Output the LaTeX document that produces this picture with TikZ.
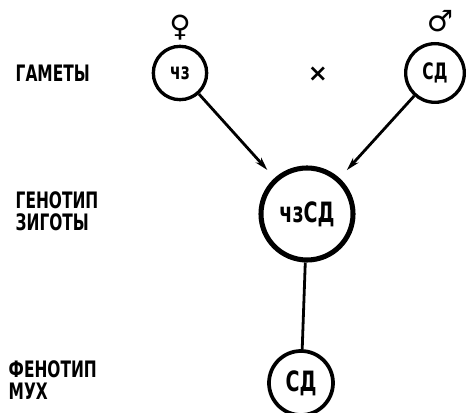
\documentclass[tikz,border=0pt]{standalone}
\usepackage{fontspec}
\setmainfont{DejaVu Sans}[FakeStretch=0.68]
\newfontfamily\symfont{DejaVu Sans}
\usetikzlibrary{arrows.meta}

\begin{document}
\begin{tikzpicture}[
  x=0.75pt, y=-0.75pt,
  font=\bfseries,
  >={Stealth[length=10pt,width=5.5pt]},
  rowlabel/.style={anchor=west, align=left, font=\bfseries\fontsize{17}{16.5}\selectfont},
  gamete/.style={draw, circle, line width=2.5pt, minimum size=40pt, inner sep=0pt,
    font=\bfseries\fontsize{17}{17}\selectfont},
  zygote/.style={draw, circle, line width=3.8pt, minimum size=69pt, inner sep=0pt,
    font=\bfseries\fontsize{21}{21}\selectfont},
  pheno/.style={draw, circle, line width=2.8pt, minimum size=48pt, inner sep=0pt,
    font=\bfseries\fontsize{21}{21}\selectfont},
  sex/.style={font=\symfont\bfseries\fontsize{22}{22}\selectfont},
  arrow/.style={->, line width=2.1pt, shorten >=8pt}
]
  \useasboundingbox (0,0) rectangle (468,413);

  % row labels
  \node[rowlabel] (lgam) at (11,73) {ГАМЕТЫ};
  \node[rowlabel] (lgen) at (11,211) {ГЕНОТИП\\ЗИГОТЫ};
  \node[rowlabel] (lphen) at (4,380) {ФЕНОТИП\\МУХ};

  % gametes
  \node[gamete] (fem) at (180,73) {чз};
  \node[gamete, minimum size=44pt] (mal) at (435,73) {СД};
  \node[sex] (fsym) at (180,28) {♀};
  \node[sex] (msym) at (440,21) {♂};
  \node[font=\symfont\bfseries\fontsize{18}{18}\selectfont] (cross) at (318,74) {×};

  % zygote and phenotype
  \node[zygote] (zyg) at (307,214) {чзСД};
  \node[pheno] (fly) at (301,383) {СД};

  \draw[arrow] (fem) -- (zyg);
  \draw[arrow] (mal) -- (zyg);
  \draw[line width=2.1pt] (zyg) -- (fly);
\end{tikzpicture}
\end{document}
